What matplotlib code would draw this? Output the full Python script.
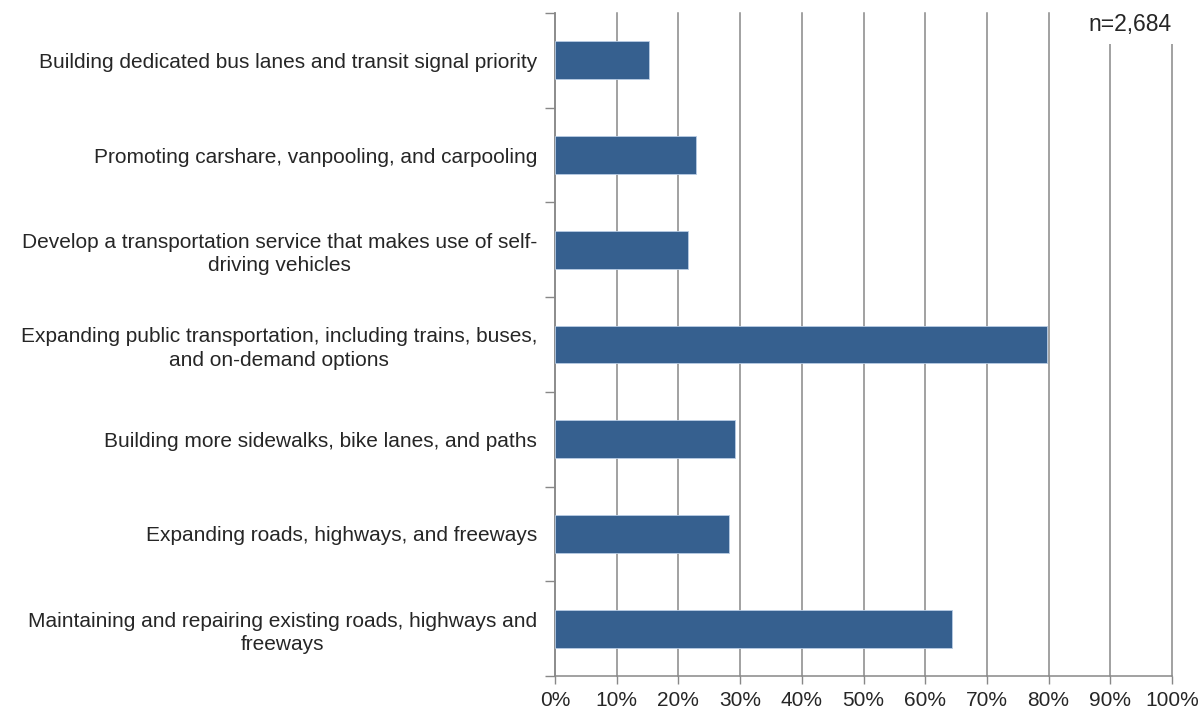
import matplotlib.pyplot as plt
import numpy as np

categories = [
    "Building dedicated bus lanes and transit signal priority",
    "Promoting carshare, vanpooling, and carpooling",
    "Develop a transportation service that makes use of self-\ndriving vehicles",
    "Expanding public transportation, including trains, buses,\nand on-demand options",
    "Building more sidewalks, bike lanes, and paths",
    "Expanding roads, highways, and freeways",
    "Maintaining and repairing existing roads, highways and\nfreeways",
]
values = [15.2, 22.9, 21.6, 79.8, 29.2, 28.2, 64.3]
xticks = [0, 10, 20, 30, 40, 50, 60, 70, 80, 90, 100]
xlabels = ["{}%".format(t) for t in xticks]

plt.rcParams['font.family'] = ['Liberation Sans', 'DejaVu Sans']

fig = plt.figure(figsize=(11.99, 7.13), dpi=100)
ax = fig.add_axes([555 / 1199, 1 - 676 / 713, 617 / 1199, 663 / 713])

y = np.arange(len(categories))[::-1]
ax.barh(y, values, height=0.4, color="#36608f", edgecolor="#b8cce4", linewidth=0.6, zorder=3)

ax.set_xlim(0, 100)
ax.set_ylim(-0.5, len(categories) - 0.5)
ax.set_xticks(xticks)
ax.set_xticklabels(xlabels, fontsize=15, color="#262626")
ax.set_yticks(y)
ax.set_yticklabels(categories, fontsize=15, color="#262626", ha="right",
                   multialignment="center")
for lab in ax.get_yticklabels():
    lab.set_linespacing(1.3)
ax.set_yticks(np.arange(-0.5, len(categories)), minor=True)
ax.tick_params(axis="y", which="major", length=0, pad=13)
ax.tick_params(axis="y", which="minor", length=7, color="#888888", width=1)
ax.tick_params(axis="x", length=6, color="#888888", width=1, pad=5)

ax.grid(axis="x", color="#888888", linewidth=1.1, zorder=0)
for line in ax.get_xgridlines():
    line.set_clip_on(False)
for side in ["top", "right"]:
    ax.spines[side].set_visible(False)
for side in ["left", "bottom"]:
    ax.spines[side].set_color("#888888")
    ax.spines[side].set_linewidth(1.1)

ax.text(1.0, 1.0, "n=2,684", transform=ax.transAxes, ha="right", va="top", fontsize=16.5,
        color="#262626", bbox=dict(facecolor="white", edgecolor="none", pad=6), zorder=5)

fig.savefig("out.png", dpi=100)
